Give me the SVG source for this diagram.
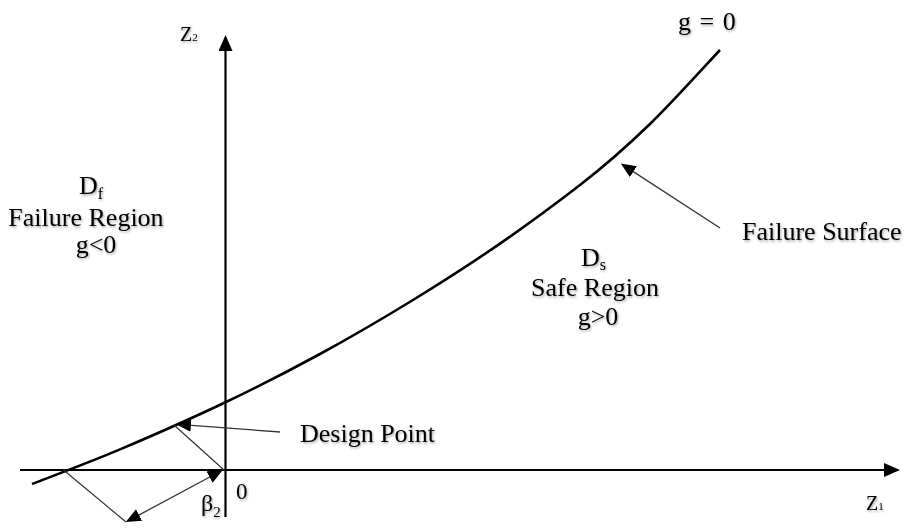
<svg xmlns="http://www.w3.org/2000/svg" width="908" height="528" viewBox="0 0 908 528">
  <style>
    .t { font-family: "Liberation Serif", "Times New Roman", serif; fill: #000; filter: url(#soft); }
    .lbl { font-size: 26px; }
    .axis { stroke: #000; stroke-width: 2.2; fill: none; }
    .curve { stroke: #000; stroke-width: 2.6; fill: none; }
    .thin { stroke: #333; stroke-width: 1.2; fill: none; }
    .ptr { stroke: #333; stroke-width: 1.3; fill: none; }
  </style>
  <defs>
    <filter id="soft" x="-10%" y="-20%" width="130%" height="150%">
      <feDropShadow dx="1" dy="1.5" stdDeviation="1" flood-color="#000" flood-opacity="0.35"/>
    </filter>
    <marker id="ahBig" markerWidth="16" markerHeight="14" refX="13" refY="7" orient="auto" markerUnits="userSpaceOnUse">
      <path d="M0,0 L16,7 L0,14 z" fill="#000"/>
    </marker>
    <marker id="ahSmall" markerWidth="15" markerHeight="13" refX="13" refY="6.5" orient="auto-start-reverse" markerUnits="userSpaceOnUse">
      <path d="M0,0 L15,6.5 L0,13 z" fill="#000"/>
    </marker>
  </defs>
  <rect width="908" height="528" fill="#fff"/>

  <g id="axis-z1">
    <line class="axis" x1="20" y1="470" x2="897" y2="470" marker-end="url(#ahBig)"/>
    <text class="t" x="866" y="510" font-size="20">Z<tspan font-size="11">1</tspan></text>
  </g>
  <g id="axis-z2">
    <line class="axis" x1="225.5" y1="517" x2="225.5" y2="38" marker-end="url(#ahBig)"/>
    <text class="t" x="180" y="41" font-size="20">Z<tspan font-size="11">2</tspan></text>
  </g>
  <g id="origin">
    <text class="t" x="236" y="499" font-size="23">0</text>
  </g>

  <g id="limit-state-curve">
    <path class="curve" d="M32,484 C46.7,478.2 87.7,463.1 120,449.4 C152.3,435.7 192.7,417.9 226,402 C259.3,386.1 288.8,371 320,354 C351.2,337 383,318.4 413,300 C443,281.6 472.2,262.8 500,243.6 C527.8,224.4 555,204.3 580,185 C605,165.7 626.7,146.5 650,124 C673.3,101.5 708.3,62.3 720,50"/>
    <text class="t lbl" x="678" y="30" word-spacing="2">g = 0</text>
  </g>

  <g id="failure-region">
    <text class="t lbl" x="79" y="194">D<tspan font-size="16" dy="5">f</tspan></text>
    <text class="t lbl" x="86" y="226" text-anchor="middle">Failure Region</text>
    <text class="t lbl" x="96" y="253" text-anchor="middle">g&lt;0</text>
  </g>

  <g id="safe-region">
    <text class="t lbl" x="581" y="266">D<tspan font-size="16" dy="4">s</tspan></text>
    <text class="t lbl" x="595" y="296" text-anchor="middle">Safe Region</text>
    <text class="t lbl" x="598" y="325" text-anchor="middle">g&gt;0</text>
  </g>

  <g id="failure-surface">
    <text class="t lbl" x="742" y="240">Failure Surface</text>
  </g>

  <g id="design-point">
    <text class="t lbl" x="300" y="442">Design Point</text>
  </g>

  <g id="beta">
    <text class="t" x="201" y="511" font-size="24">β<tspan font-size="15" dy="6">2</tspan></text>
  </g>

  <g id="connectors">
    <line class="thin" x1="174" y1="425" x2="224" y2="470"/>
    <line class="thin" x1="63.5" y1="470" x2="126" y2="522"/>
    <line class="ptr" x1="280" y1="432" x2="178" y2="424.3" marker-end="url(#ahSmall)"/>
    <line class="ptr" x1="720" y1="228" x2="622.5" y2="164.6" marker-end="url(#ahSmall)"/>
    <line class="ptr" x1="127.6" y1="521.1" x2="221" y2="471" marker-start="url(#ahSmall)" marker-end="url(#ahSmall)"/>
  </g>
</svg>
